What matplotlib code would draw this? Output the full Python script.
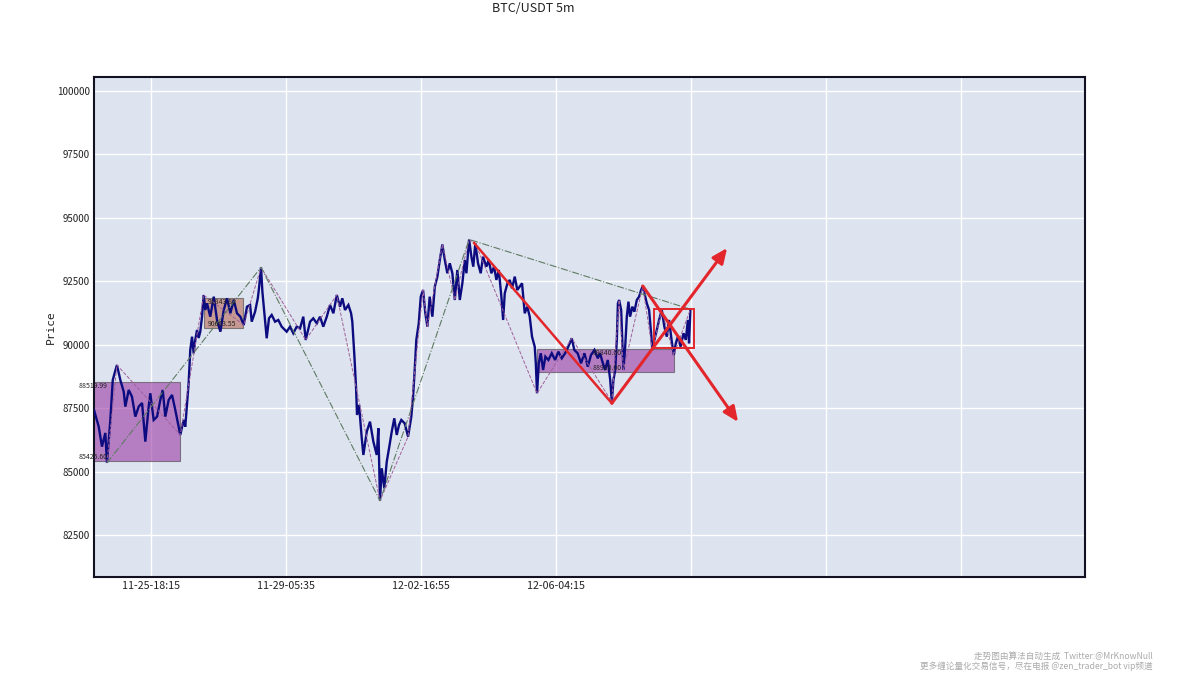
import numpy as np
import pandas as pd
import matplotlib
matplotlib.use('Agg')
import matplotlib.pyplot as plt
import matplotlib.patches as patches

plt.rcParams['font.family'] = ['Noto Sans CJK SC', 'DejaVu Sans']

# 5 minute bars, bar 0 is the first candle on the chart
start_time = pd.Timestamp('2025-11-24 07:05')
bar_minutes = 5

bar_idx = [0, 35, 59, 84, 96, 121, 139, 153, 170, 195, 220, 232, 257, 281, 306, 331, 356, 380, 405, 417,
           442, 467, 491, 509, 528, 553, 578, 602, 627, 639, 664, 676, 689, 701, 713, 726, 738, 750, 763, 775,
           787, 800, 812, 824, 837, 861, 887, 911, 936, 961, 985, 1010, 1035, 1059, 1084, 1109, 1133, 1156,
           1168, 1193, 1213, 1222, 1237, 1247, 1261, 1279, 1296, 1316, 1341, 1365, 1390, 1427, 1452, 1476,
           1501, 1526, 1550, 1568, 1600, 1624, 1650, 1674, 1698, 1724, 1748, 1773, 1798, 1822, 1839, 1859,
           1884, 1904, 1913, 1928, 1941, 1948, 1963, 1983, 1995, 2020, 2044, 2069, 2094, 2106, 2118, 2131,
           2150, 2168, 2185, 2205, 2224, 2242, 2259, 2276, 2301, 2326, 2350, 2363, 2375, 2387, 2405, 2420,
           2437, 2454, 2469, 2486, 2506, 2524, 2543, 2561, 2580, 2598, 2617, 2635, 2654, 2672, 2691, 2709,
           2728, 2746, 2758, 2778, 2795, 2809, 2824, 2844, 2864, 2881, 2906, 2923, 2943, 2963, 2980, 2998,
           3017, 3030, 3042, 3062, 3079, 3096, 3116, 3135, 3153, 3170, 3190, 3209, 3227, 3244, 3264, 3272,
           3281, 3294, 3309, 3326, 3343, 3365, 3390, 3415, 3439, 3464, 3489, 3513, 3538, 3557, 3582, 3607,
           3632, 3657, 3681, 3706, 3731, 3748, 3765, 3785, 3805, 3823, 3835, 3847, 3860, 3872, 3880, 3889,
           3904, 3921, 3934, 3946, 3958, 3970, 3987, 4002, 4020, 4037, 4052, 4064, 4076, 4094, 4111, 4126,
           4135, 4150, 4168, 4185, 4205, 4224, 4242, 4259, 4279, 4294, 4309, 4324, 4344, 4366, 4383, 4398,
           4407, 4417]
close = [87428, 86770, 85982, 86522, 85340, 87034, 88610, 88886, 89200, 88610, 88150, 87560, 88216, 87955,
         87165, 87560, 87704, 86180, 87560, 88087, 87034, 87165, 87822, 88216, 87165, 87822, 88020, 87428,
         86770, 86443, 87034, 86770, 87692, 88492, 89793, 90317, 89663, 90187, 90581, 90266, 90514, 91105,
         91960, 91369, 91632, 91105, 91894, 90975, 90514, 91369, 91830, 91239, 91763, 91239, 91105, 90778,
         91500, 91566, 90908, 91302, 91830, 92225, 93050, 92093, 91302, 90254, 91041, 91172, 90908, 90975,
         90711, 90514, 90711, 90451, 90711, 90645, 91105, 90187, 90908, 91041, 90843, 91105, 90711, 91105,
         91566, 91239, 91960, 91500, 91830, 91369, 91566, 91239, 90908, 89596, 88284, 87231, 87625, 86313,
         85655, 86573, 86967, 86180, 85655, 86707, 83850, 85130, 84342, 85390, 85917, 86573, 87100, 86443,
         86837, 87034, 86902, 86377, 87165, 87955, 89005, 90187, 90843, 91894, 92158, 91239, 90711, 91894,
         91105, 92290, 92684, 93340, 93950, 93340, 92816, 93210, 92816, 91763, 92946, 91763, 92422, 93340,
         92816, 94150, 93470, 93076, 93998, 93210, 92816, 93470, 93076, 93340, 92816, 93076, 92553, 92946,
         91894, 90975, 92027, 92422, 92553, 92225, 92684, 92158, 92290, 92422, 91239, 91500, 91105, 90317,
         89923, 89268, 88087, 89268, 89663, 89005, 89530, 89399, 89663, 89399, 89727, 89465, 89663, 89923,
         90254, 89793, 89663, 89268, 89663, 89135, 89596, 89793, 89465, 89663, 89333, 89005, 89399, 88610,
         87750, 88610, 89005, 90187, 91632, 91763, 91369, 89005, 89923, 91105, 91698, 91105, 91500, 91302,
         91763, 91894, 92158, 92300, 92027, 91632, 91369, 90451, 89793, 90187, 90581, 90975, 91369, 90711,
         90317, 90975, 90120, 89596, 90057, 90317, 89923, 90451, 90190, 90975, 90057, 91400]

# zigzag pivots (bar index, price)
major_idx = [96, 1237, 2118, 2778, 4417]
major_px = [85340, 93050, 83850, 94150, 91400]
minor_idx = [96, 170, 639, 812, 1109, 1237, 1568, 1798, 2118, 2326, 2437, 2469, 2580, 2672, 2778, 2824,
             3281, 3538, 3835, 3889, 3921, 4064, 4135, 4205, 4294, 4417]
minor_px = [85340, 89200, 86443, 91960, 90778, 93050, 90187, 91960, 83850, 86377, 92158, 90711, 93950,
            91763, 94150, 93998, 88087, 90254, 87750, 91763, 89005, 92300, 89793, 91369, 89596, 91400]

# consolidation boxes: start bar, end bar, low, high, colour
box_start = [-40, 812, 3281]
box_end = [639, 1101, 4298]
box_low = [85425.60, 90663.55, 88910.00]
box_high = [88519.99, 91843.82, 89840.00]
box_color = ['#9b3aa6', '#b86a55', '#9b3aa6']
box_label_bar = [-111, 844, 3696]

# triangle / forecast arrows (bar index, price)
tri_idx = [2815, 3835]
tri_px = [94010, 87692]
arrow_from_idx = [3835, 4064]
arrow_from_px = [87692, 92315]
arrow_to_idx = [4689, 4770]
arrow_to_px = [93813, 86955]
red_rect = (4148, 4444, 89883, 91409)

tick_bars = [422, 1422, 2422, 3422, 4422, 5422, 6422]


def tick_labels(bars, last_bar):
    """
    Datetime labels for the bar ticks, blank for ticks after the last candle
    """
    labels = []
    for b in bars:
        if b > last_bar:
            labels.append('')
            continue
        t = start_time + pd.Timedelta(minutes=bar_minutes * b)
        labels.append(t.strftime('%m-%d-%H:%M'))
    return labels


fig = plt.figure(figsize=(11.99, 6.97), dpi=100)
ax = fig.add_axes([0.0784, 0.1722, 0.8266, 0.7173])
ax.set_facecolor('#dde4ef')
ax.grid(True, color='white', lw=1.0)
ax.set_axisbelow(True)

# Boxes and their price labels
for i in range(len(box_start)):
    ax.add_patch(patches.Rectangle((box_start[i], box_low[i]), box_end[i] - box_start[i],
                                   box_high[i] - box_low[i], facecolor=box_color[i], alpha=0.6,
                                   edgecolor='#444444', lw=0.8, zorder=2))
    ax.text(box_label_bar[i], box_high[i], '%.2f' % box_high[i], fontsize=5, va='top',
            color='#222222', zorder=4)
    ax.text(box_label_bar[i], box_low[i], '%.2f' % box_low[i], fontsize=5, va='bottom',
            color='#222222', zorder=4)

# Price line
ax.plot(bar_idx, close, color='#0c0c80', lw=1.7, zorder=3, solid_joinstyle='miter')

# Zigzags
ax.plot(minor_idx, minor_px, color='#a0609a', lw=0.7, ls='--', zorder=3.5)
ax.plot(major_idx, major_px, color='#5f7a62', lw=0.8, ls='-.', zorder=3.5)

# Triangle and forecast arrows
ax.plot(tri_idx, tri_px, color='#e3262b', lw=1.8, zorder=5)
for i in range(len(arrow_from_idx)):
    ax.annotate('', xy=(arrow_to_idx[i], arrow_to_px[i]), xytext=(arrow_from_idx[i], arrow_from_px[i]),
                arrowprops=dict(arrowstyle='-|>,head_length=0.5,head_width=0.22', color='#e3262b', lw=2.2,
                                mutation_scale=18, shrinkA=0, shrinkB=0), zorder=5)
ax.add_patch(patches.Rectangle((red_rect[0], red_rect[2]), red_rect[1] - red_rect[0],
                               red_rect[3] - red_rect[2], fill=False, edgecolor='#e3262b', lw=1.4, zorder=5))

ax.set_xlim(0, 7340)
ax.set_ylim(80845, 100552)
ax.set_yticks([82500, 85000, 87500, 90000, 92500, 95000, 97500, 100000])
ax.set_xticks(tick_bars)
ax.set_xticklabels(tick_labels(tick_bars, bar_idx[-1]))
ax.tick_params(length=0, pad=3, colors='#222222')
ax.tick_params(axis='x', labelsize=7.7)
ax.tick_params(axis='y', labelsize=7)
ax.set_ylabel('Price', fontsize=8, color='#222222', family='DejaVu Sans Mono', labelpad=1)
for s in ax.spines.values():
    s.set_color('#111122')
    s.set_linewidth(1.5)

fig.text(0.445, 0.997, 'BTC/USDT 5m', ha='center', va='top', fontsize=9, color='#222222')
fig.text(0.9616, 0.0545, '走势图由算法自动生成  Twitter:@MrKnowNull', ha='right', fontsize=6.2, color='#aaaaaa')
fig.text(0.9616, 0.0405, '更多缠论量化交易信号，尽在电报 @zen_trader_bot vip频道', ha='right', fontsize=6.2,
         color='#aaaaaa')

plt.savefig('out.png', dpi=100)
plt.close()
